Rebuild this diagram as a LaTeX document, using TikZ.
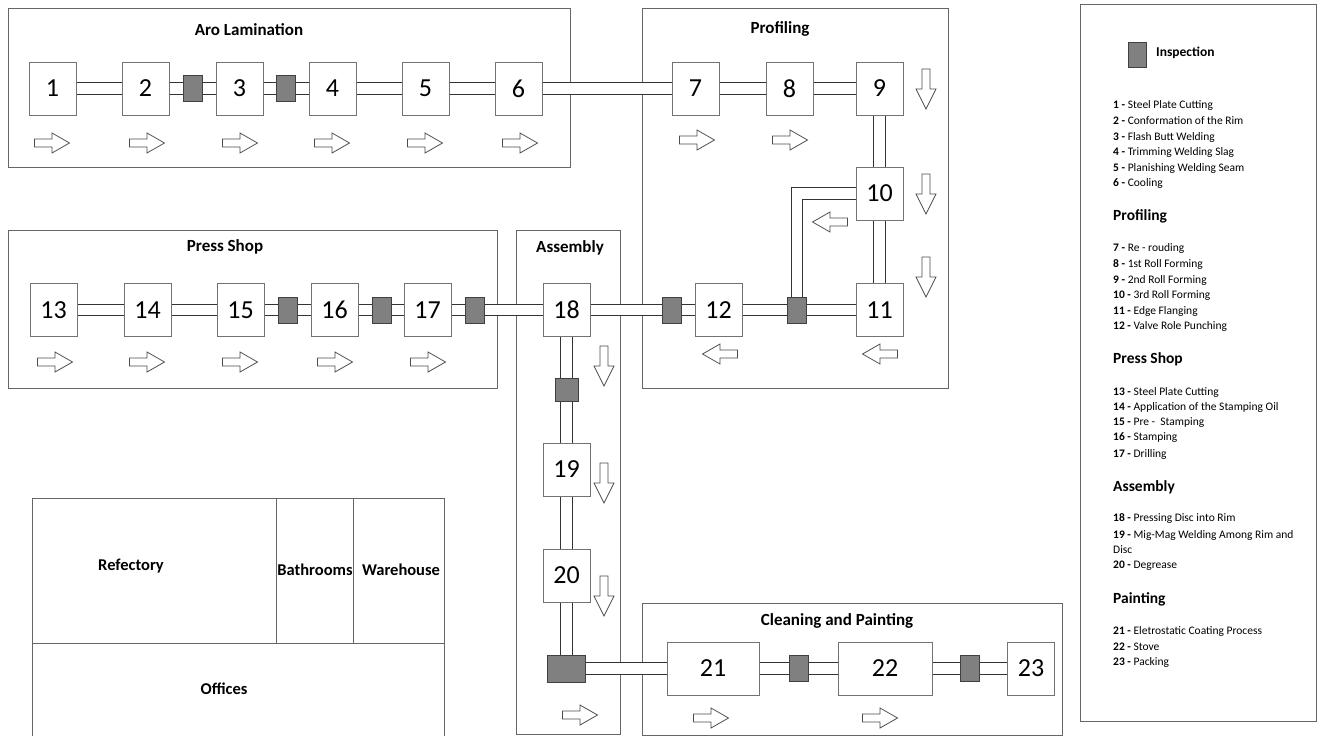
\documentclass[tikz,border=0pt]{standalone}
\usepackage{fontspec}
\setmainfont{Carlito}
\pgfdeclarelayer{bg}
\pgfdeclarelayer{tubes}
\pgfsetlayers{bg,tubes,main}
\begin{document}
\begin{tikzpicture}[x=1pt,y=-1pt,
  region/.style={draw=black!60, line width=1pt},
  station/.style={draw=black!55, fill=white, line width=1pt, minimum width=47pt, minimum height=53pt, inner sep=0pt, font=\fontsize{26}{28}\selectfont},
  widestation/.style={station, minimum width=93pt},
  insp/.style={draw=black!75, fill=black!50, line width=0.8pt, minimum width=19pt, minimum height=26pt, inner sep=0pt},
  tube/.style={draw=black!80, line width=1pt, double=white, double distance=10.5pt},
  title/.style={font=\fontsize{17}{19}\selectfont\bfseries, inner sep=1pt},
  room/.style={font=\fontsize{16.5}{18}\selectfont\bfseries, inner sep=1pt},
  legend/.style={anchor=west, inner sep=0pt, font=\fontsize{11.5}{12}\selectfont},
  lhead/.style={anchor=west, inner sep=0pt, font=\fontsize{15.5}{16}\selectfont\bfseries},
  flow/.pic={\draw[black!70, line width=0.8pt, fill=white] (-17.5,-4) -- (0,-4) -- (0,-10) -- (17.5,0) -- (0,10) -- (0,4) -- (-17.5,4) -- cycle;},
  longflow/.pic={\draw[black!70, line width=0.8pt, fill=white] (-20,-4) -- (0,-4) -- (0,-10) -- (20,0) -- (0,10) -- (0,4) -- (-20,4) -- cycle;}
]
\useasboundingbox (0,0) rectangle (1323,736);

% ---------- regions ----------
\begin{pgfonlayer}{bg}
\draw[region] (8,8) rectangle (570,167);
\draw[region] (642,8) rectangle (948,388);
\draw[region] (8,230) rectangle (497,388);
\draw[region] (516,230) rectangle (620,734);
\draw[region] (642,603) rectangle (1062,735);
\draw[region] (1080,4) rectangle (1316,721);
\draw[region] (32,745) |- (444,498) -- (444,745);
\draw[region] (32,643) -- (444,643);
\draw[region] (276,498) -- (276,643);
\draw[region] (353,498) -- (353,643);
\end{pgfonlayer}

% ---------- titles ----------
\node[title] (tAro) at (249,30) {Aro Lamination};
\node[title] (tProf) at (780,29) {Profiling};
\node[title] (tPress) at (225,247) {Press Shop};
\node[title] (tAss) at (570,248) {Assembly};
\node[title] (tClean) at (837,621) {Cleaning and Painting};
\node[room] (tRef) at (131,566) {Refectory};
\node[room] (tBath) at (315,570) {Bathrooms};
\node[room] (tWare) at (401,570) {Warehouse};
\node[room] (tOff) at (224,689) {Offices};

% ---------- stations ----------
\node[station] (b1) at (52.5,88.5) {1};
\node[station] (b2) at (145.5,88.5) {2};
\node[station] (b3) at (239.5,88.5) {3};
\node[station] (b4) at (332.5,88.5) {4};
\node[station] (b5) at (425.5,88.5) {5};
\node[station] (b6) at (518.5,88.5) {6};
\node[station] (b7) at (695.5,88.5) {7};
\node[station] (b8) at (789.5,88.5) {8};
\node[station] (b9) at (879.5,88.5) {9};
\node[station] (b10) at (879.5,193.5) {10};
\node[station] (b11) at (879.5,310) {11};
\node[station] (b12) at (718.5,310) {12};
\node[station] (b13) at (53.5,310) {13};
\node[station] (b14) at (147.5,310) {14};
\node[station] (b15) at (240.5,310) {15};
\node[station] (b16) at (334.5,310) {16};
\node[station] (b17) at (427.5,310) {17};
\node[station] (b18) at (566.5,310) {18};
\node[station] (b19) at (566.5,469.5) {19};
\node[station] (b20) at (566.5,575.5) {20};
\node[widestation, minimum width=92pt] (b21) at (713,668.5) {21};
\node[widestation, minimum width=94pt] (b22) at (885,668.5) {22};
\node[station] (b23) at (1031,668.5) {23};

% ---------- inspections ----------
\node[insp] (ia) at (192.5,88.5) {};
\node[insp] (ib) at (285.5,88.5) {};
\node[insp] (ic) at (287.5,310) {};
\node[insp] (id) at (381.5,310) {};
\node[insp] (ie) at (474.5,310) {};
\node[insp] (if) at (672,310) {};
\node[insp] (ig) at (797,310) {};
\node[insp, minimum width=23pt, minimum height=23pt] (ih) at (566.5,389.5) {};
\node[insp, minimum width=38pt, minimum height=27pt] (ii) at (566.5,668.5) {};
\node[insp] (ij) at (799,668.5) {};
\node[insp] (ik) at (970,668.5) {};

% ---------- tubes ----------
\begin{pgfonlayer}{tubes}
\draw[tube] (b1) -- (b2);
\draw[tube] (b2) -- (ia);
\draw[tube] (ia) -- (b3);
\draw[tube] (b3) -- (ib);
\draw[tube] (ib) -- (b4);
\draw[tube] (b4) -- (b5);
\draw[tube] (b5) -- (b6);
\draw[tube] (b6) -- (b7);
\draw[tube] (b7) -- (b8);
\draw[tube] (b8) -- (b9);
\draw[tube] (b9) -- (b10);
\draw[tube] (b10) -- (b11);
\draw[tube] (b10.west) -| (ig.north);
\draw[tube] (b11) -- (ig);
\draw[tube] (ig) -- (b12);
\draw[tube] (b12) -- (if);
\draw[tube] (if) -- (b18);
\draw[tube] (b13) -- (b14);
\draw[tube] (b14) -- (b15);
\draw[tube] (b15) -- (ic);
\draw[tube] (ic) -- (b16);
\draw[tube] (b16) -- (id);
\draw[tube] (id) -- (b17);
\draw[tube] (b17) -- (ie);
\draw[tube] (ie) -- (b18);
\draw[tube] (b18) -- (ih);
\draw[tube] (ih) -- (b19);
\draw[tube] (b19) -- (b20);
\draw[tube] (b20) -- (ii);
\draw[tube] (ii) -- (b21);
\draw[tube] (b21) -- (ij);
\draw[tube] (ij) -- (b22);
\draw[tube] (b22) -- (ik);
\draw[tube] (ik) -- (b23);
\end{pgfonlayer}

% ---------- flow arrows ----------
\foreach \x in {52,147,240,332,425,520} \pic at (\x,143) {flow};
\foreach \x in {697,790} \pic at (\x,140) {flow};
\foreach \x in {55,147,240,335,428} \pic at (\x,362) {flow};
\pic at (580,715) {flow};
\pic at (711,718) {flow};
\pic at (880,718) {flow};
\foreach \y in {89,194,277} \pic[rotate=-90] at (926,\y) {longflow};
\foreach \y in {366,483,596} \pic[rotate=-90] at (604,\y) {longflow};
\pic[rotate=180] at (830,222) {flow};
\pic[rotate=180] at (720,354) {flow};
\pic[rotate=180] at (880,354) {flow};

% ---------- legend ----------
\node[insp, minimum width=18pt, minimum height=25pt] (lin) at (1137,54.5) {};
\node[anchor=west, inner sep=0pt, font=\fontsize{13.5}{14}\selectfont\bfseries] (lint) at (1156,53) {Inspection};
\node[legend] (t1) at (1113,105) {\textbf{1 -} Steel Plate Cutting};
\node[legend] (t2) at (1113,121) {\textbf{2 -} Conformation of the Rim};
\node[legend] (t3) at (1113,137) {\textbf{3 -} Flash Butt Welding};
\node[legend] (t4) at (1113,152) {\textbf{4 -} Trimming Welding Slag};
\node[legend] (t5) at (1113,168) {\textbf{5 -} Planishing Welding Seam};
\node[legend] (t6) at (1113,183) {\textbf{6 -} Cooling};
\node[lhead] (hProf) at (1113,216) {Profiling};
\node[legend] (t7) at (1113,248) {\textbf{7 -} Re - rouding};
\node[legend] (t8) at (1113,264) {\textbf{8 -} 1st Roll Forming};
\node[legend] (t9) at (1113,280) {\textbf{9 -} 2nd Roll Forming};
\node[legend] (t10) at (1113,295) {\textbf{10 -} 3rd Roll Forming};
\node[legend] (t11) at (1113,311) {\textbf{11 -} Edge Flanging};
\node[legend] (t12) at (1113,326) {\textbf{12 -} Valve Role Punching};
\node[lhead] (hPress) at (1113,359) {Press Shop};
\node[legend] (t13) at (1113,392) {\textbf{13 -} Steel Plate Cutting};
\node[legend] (t14) at (1113,407) {\textbf{14 -} Application of the Stamping Oil};
\node[legend] (t15) at (1113,423) {\textbf{15 -} Pre -\ \ Stamping};
\node[legend] (t16) at (1113,438) {\textbf{16 -} Stamping};
\node[legend] (t17) at (1113,454) {\textbf{17 -} Drilling};
\node[lhead] (hAss) at (1113,487) {Assembly};
\node[legend] (t18) at (1113,519) {\textbf{18 -} Pressing Disc into Rim};
\node[legend] (t19) at (1113,535) {\textbf{19 -} Mig-Mag Welding Among Rim and};
\node[legend] (t19b) at (1113,550) {Disc};
\node[legend] (t20) at (1113,566) {\textbf{20 -} Degrease};
\node[lhead] (hPaint) at (1113,599) {Painting};
\node[legend] (t21) at (1113,631) {\textbf{21 -} Eletrostatic Coating Process};
\node[legend] (t22) at (1113,647) {\textbf{22 -} Stove};
\node[legend] (t23) at (1113,662) {\textbf{23 -} Packing};
\end{tikzpicture}
\end{document}
